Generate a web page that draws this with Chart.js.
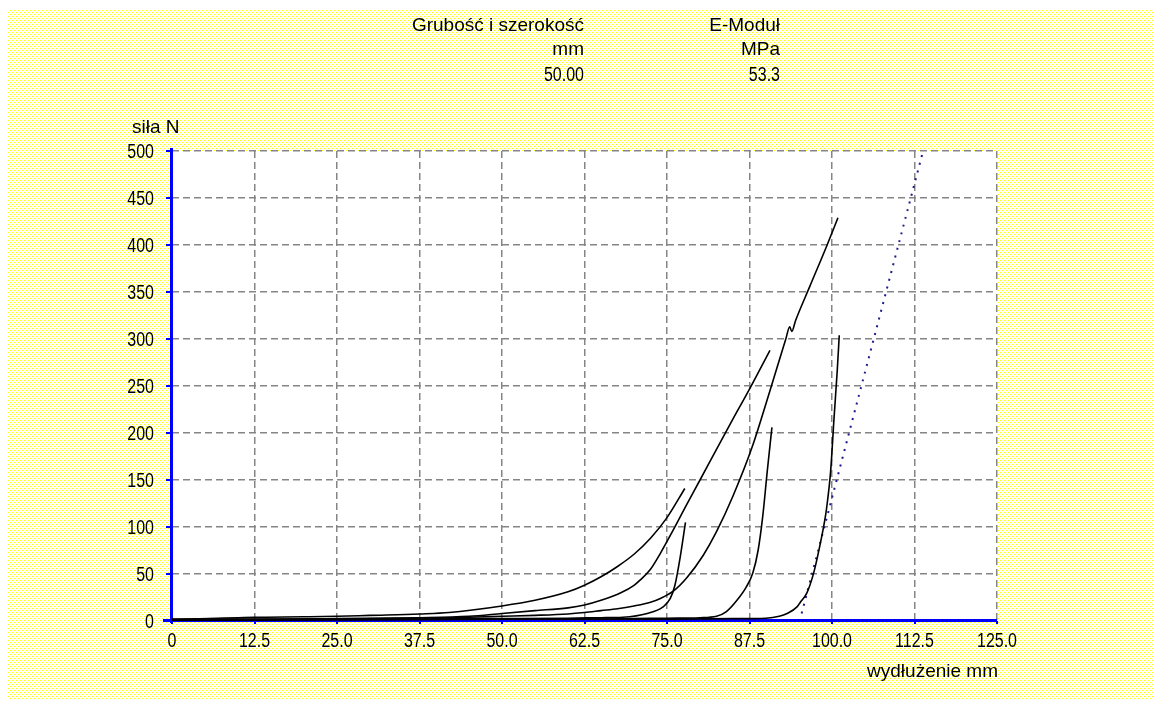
<!DOCTYPE html>
<html>
<head>
<meta charset="utf-8">
<script src="https://cdn.jsdelivr.net/npm/chart.js@4.4.1/dist/chart.umd.min.js"></script>
<style>
  html, body { margin: 0; padding: 0; background: #fff; }
  #wrap { width: 1160px; height: 706px; }
</style>
</head>
<body>
<div id="wrap"><canvas id="chart" width="1160" height="706"></canvas></div>
<script>
const xTicks = [0, 12.5, 25, 37.5, 50, 62.5, 75, 87.5, 100, 112.5, 125];
const xTickLabels = ['0', '12.5', '25.0', '37.5', '50.0', '62.5', '75.0', '87.5', '100.0', '112.5', '125.0'];
const yTicks = [0, 50, 100, 150, 200, 250, 300, 350, 400, 450, 500];
const yTickLabels = ['0', '50', '100', '150', '200', '250', '300', '350', '400', '450', '500'];

const headerLeft = ['Grubość i szerokość', 'mm', '50.00'];
const headerRight = ['E-Moduł', 'MPa', '53.3'];

// krzywe siła / wydłużenie
const curveAX = [0, 12.5, 20, 25, 30, 37.5, 42, 50, 55, 60, 62.5, 65, 67.5, 70, 72.5, 75, 77.7];
const curveAY = [1.5, 4, 4.5, 5, 6, 7.5, 9, 16, 22, 31, 38, 47, 58, 71, 88, 110, 141];

const curveBX = [0, 12.5, 25, 37.5, 45, 50, 55, 60, 62.5, 65, 67.5, 70, 72.5, 74, 76, 78, 80.5, 82.5, 85, 87.9, 90.6, 93.0, 93.6, 93.9, 94.5, 96.7, 99.2, 100.9];
const curveBY = [1.5, 1.5, 2, 3, 4, 5, 6, 7.5, 9, 11, 13, 16, 20, 24, 32, 46, 70, 95, 133, 185, 245, 300, 313, 308, 320, 357, 399, 429];

const curveCX = [0, 12.5, 25, 37.5, 45, 50, 55, 60, 62.5, 65, 68, 70, 71, 72.5, 74, 75.5, 78, 80, 82.6, 85, 87.6, 90.6];
const curveCY = [1.5, 1.5, 2.5, 3.5, 5, 8, 11, 14, 17, 22, 30, 38, 44, 55, 72, 91, 124, 150, 184, 215, 248, 288];

const curveDX = [0, 25, 37.5, 50, 60, 65, 68.3, 72, 74.4, 75.5, 76.2, 77, 77.8];
const curveDY = [1.5, 2, 2, 2.5, 3, 3.5, 4, 8, 15, 24, 38, 68, 105];

const curveEX = [0, 25, 50, 62.5, 70, 75, 80, 82.5, 84, 85.6, 87, 88, 88.8, 89.5, 90.2, 90.9];
const curveEY = [1.5, 1.5, 2, 2, 2.5, 3, 3.5, 5, 10, 22, 36, 51, 75, 111, 160, 206];

const curveFX = [0, 25, 50, 75, 85, 90, 92, 93.2, 94.7, 95.2, 96.2, 97.1, 97.7, 98.9, 99.2, 99.8, 100.3, 100.8, 101.1];
const curveFY = [1.5, 1.5, 2, 2, 2.5, 3, 5, 8, 15, 20, 30, 48, 65, 107, 121, 160, 215, 267, 304];

// styczna E-modułu
const eModX = [95.4, 113.8];
const eModY = [8, 500];

const curves = [
    [curveAX, curveAY], [curveBX, curveBY], [curveCX, curveCY],
    [curveDX, curveDY], [curveEX, curveEY], [curveFX, curveFY]
];

function toPoints(xs, ys) {
    return xs.map((x, i) => ({ x: x, y: ys[i] }));
}

const WORD_FONT = '19px "Liberation Sans", Arial, sans-serif';
const NUM_FONT = '20px "Liberation Sans", Arial, sans-serif';

// cyfry w oryginale są wąskie i wysokie, więc ściskamy tekst w poziomie
function drawNarrow(ctx, text, x, y, align) {
    ctx.save();
    ctx.translate(x, y);
    ctx.scale(0.8, 1);
    ctx.font = NUM_FONT;
    ctx.textAlign = align;
    ctx.textBaseline = 'alphabetic';
    ctx.fillText(text, 0, 0);
    ctx.restore();
}

// tło w kropki jak w oryginale
function makePattern(ctx) {
    const c = document.createElement('canvas');
    c.width = 4;
    c.height = 4;
    const p = c.getContext('2d');
    p.fillStyle = '#ffffff';
    p.fillRect(0, 0, 4, 4);
    p.fillStyle = '#ffff00';
    p.fillRect(0, 0, 1, 1);
    p.fillRect(2, 2, 1, 1);
    return ctx.createPattern(c, 'repeat');
}

const backgroundPlugin = {
    id: 'background',
    beforeDraw(chart) {
        const { ctx, width, height, chartArea } = chart;
        ctx.save();
        ctx.fillStyle = '#ffffff';
        ctx.fillRect(0, 0, width, height);
        ctx.fillStyle = makePattern(ctx);
        ctx.fillRect(7, 10, width - 14, height - 16);
        ctx.fillStyle = '#ffffff';
        ctx.fillRect(chartArea.left, chartArea.top, chartArea.right - chartArea.left, chartArea.bottom - chartArea.top);
        ctx.restore();
    }
};

const axesPlugin = {
    id: 'blueAxes',
    beforeDatasetsDraw(chart) {
        const { ctx, chartArea, scales } = chart;
        const { left, right, top, bottom } = chartArea;
        ctx.save();
        ctx.fillStyle = '#0000ff';
        ctx.fillRect(left - 2, top - 3, 3, bottom - top + 5);
        ctx.fillRect(left - 9, bottom - 2, right - left + 9, 3);
        yTicks.forEach(v => {
            const py = Math.round(scales.y.getPixelForValue(v));
            ctx.fillRect(left - 6, py - 1, 5, 2);
        });
        xTicks.forEach(v => {
            const px = Math.round(scales.x.getPixelForValue(v));
            ctx.fillRect(px - 1, bottom, 2, 3);
        });
        ctx.restore();
    },
    afterDraw(chart) {
        const { ctx, chartArea, scales } = chart;
        ctx.save();
        ctx.fillStyle = '#000000';

        // opisy osi liczbami
        yTicks.forEach((v, i) => {
            const py = scales.y.getPixelForValue(v);
            drawNarrow(ctx, yTickLabels[i], chartArea.left - 18, py + 7, 'right');
        });
        xTicks.forEach((v, i) => {
            const px = scales.x.getPixelForValue(v);
            drawNarrow(ctx, xTickLabels[i], px, chartArea.bottom + 26, 'center');
        });

        // nagłówek
        ctx.textBaseline = 'alphabetic';
        ctx.textAlign = 'right';
        const rows = [31, 55, 81];
        rows.forEach((yy, i) => {
            if (i === 2) {
                drawNarrow(ctx, headerLeft[i], 584, yy, 'right');
                drawNarrow(ctx, headerRight[i], 780, yy, 'right');
            } else {
                ctx.font = WORD_FONT;
                ctx.fillText(headerLeft[i], 584, yy);
                ctx.fillText(headerRight[i], 780, yy);
            }
        });
        ctx.font = WORD_FONT;
        ctx.textAlign = 'left';
        ctx.fillText('siła N', 132, 133);
        ctx.textAlign = 'right';
        ctx.fillText('wydłużenie mm', chartArea.right + 1, 677);
        ctx.restore();
    }
};

const datasets = curves.map(c => ({
    data: toPoints(c[0], c[1]),
    borderColor: '#000000',
    borderWidth: 1.6,
    pointRadius: 0,
    cubicInterpolationMode: 'monotone',
    fill: false
}));
datasets.push({
    data: toPoints(eModX, eModY),
    borderColor: '#1c1c8c',
    borderWidth: 2,
    borderDash: [2, 6],
    pointRadius: 0,
    fill: false
});

const ctx = document.getElementById('chart').getContext('2d');
new Chart(ctx, {
    type: 'line',
    data: { datasets: datasets },
    options: {
        responsive: false,
        animation: false,
        devicePixelRatio: 1,
        layout: { padding: { top: 151, right: 163, left: 0, bottom: 0 } },
        plugins: {
            legend: { display: false },
            tooltip: { enabled: false }
        },
        scales: {
            x: {
                type: 'linear',
                min: 0,
                max: 125,
                afterBuildTicks: scale => { scale.ticks = xTicks.map(v => ({ value: v })); },
                afterFit: scale => { scale.height = 85; },
                grid: { color: '#858585', lineWidth: 1.5, drawTicks: false },
                border: { display: false, dash: [7, 4] },
                ticks: { display: false }
            },
            y: {
                type: 'linear',
                min: 0,
                max: 500,
                afterBuildTicks: scale => { scale.ticks = yTicks.map(v => ({ value: v })); },
                afterFit: scale => { scale.width = 172; },
                grid: { color: '#858585', lineWidth: 1.5, drawTicks: false },
                border: { display: false, dash: [7, 4] },
                ticks: { display: false }
            }
        }
    },
    plugins: [backgroundPlugin, axesPlugin]
});
</script>
</body>
</html>
